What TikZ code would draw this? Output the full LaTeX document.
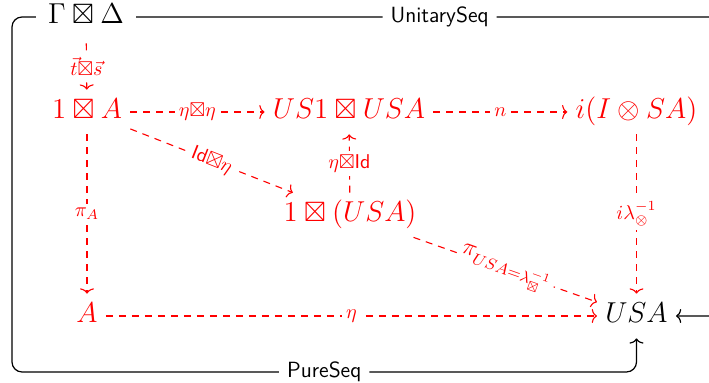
\documentclass[tikz,border=0pt]{standalone}
\usepackage{amssymb}
\usetikzlibrary{arrows.meta}
\begin{document}
\begin{tikzpicture}[x=0.5pt,y=-0.5pt,
  tip/.tip={To[length=2.6pt,width=7pt]},
  obj/.style={font=\fontsize{14}{16}\selectfont, inner sep=4pt, text height=10.5pt, text depth=3.5pt},
  robj/.style={obj, text=red},
  mor/.style={draw=red, dash pattern=on 3.5pt off 3pt, line width=0.55pt, -tip},
  lab/.style={fill=white, text=red, font=\fontsize{10}{12}\selectfont, execute at begin node={\medmuskip=0mu}, inner sep=2pt},
  biglab/.style={lab, font=\fontsize{12}{14}\selectfont},
  seq/.style={draw=black, line width=0.6pt, rounded corners=5pt, -tip},
  seqlab/.style={fill=white, font=\fontsize{11}{13}\sffamily\selectfont, inner sep=4pt}
]
\useasboundingbox (0,0) rectangle (709,383);
\clip (0,0) rectangle (709,383);

\node[obj, inner sep=6pt] (G) at (86,17) {$\Gamma\boxtimes\Delta$};
\node[robj] (oA) at (87,112) {$1\boxtimes A$};
\node[robj] (US) at (349,112) {$US1\boxtimes USA$};
\node[robj] (iI) at (636.5,112) {$i(I\otimes SA)$};
\node[robj] (oU) at (350,215) {$1\boxtimes(USA)$};
\node[robj] (A) at (87,316) {$A$};
\node[obj] (USA) at (636.5,316) {$USA$};

\draw[mor] (G) -- node[lab]{$\vec t\boxtimes\vec s$} (oA);
\draw[mor] (oA) -- node[lab]{$\eta\boxtimes\eta$} (US);
\draw[mor] (US) -- node[lab]{$n$} (iI);
\draw[mor] (oA) -- node[lab,sloped]{$\textsf{Id}\boxtimes\eta$} (oU);
\draw[mor] (oU) -- node[lab]{$\eta\boxtimes\textsf{Id}$} (US);
\draw[mor] (oA) -- node[lab]{$\pi_A$} (A);
\draw[mor] (iI) -- node[lab]{$i\lambda_\otimes^{-1}$} (USA);
\draw[mor] (oU) -- node[biglab,sloped]{$\pi_{USA=\lambda_\boxtimes^{-1}}$} (USA);
\draw[mor] (A) -- node[lab]{$\eta$} (USA);

\draw[seq] (G.west) -- (12,17) -- (12,372) -- node[seqlab]{PureSeq} (636.5,372) -- (USA.south);
\draw[seq] (G.east) -- node[seqlab]{UnitarySeq} (743,17) -- (743,316) -- (USA.east);
\end{tikzpicture}
\end{document}
